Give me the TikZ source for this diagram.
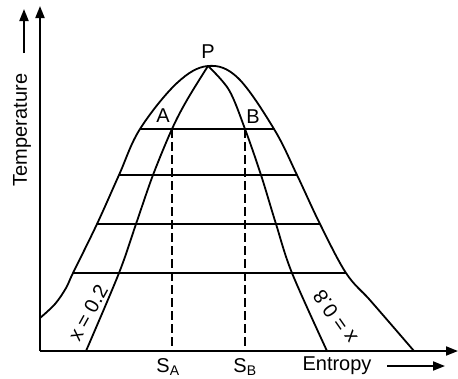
\documentclass[tikz,border=0pt]{standalone}
\usepackage{fontspec}
\setmainfont{Liberation Sans}
\usetikzlibrary{arrows.meta}
\begin{document}
\begin{tikzpicture}[x=1pt,y=-1pt, line width=1.8pt,
  axis/.style={-{Triangle[length=12pt,width=9pt]}},
  lbl/.style={font=\fontsize{20}{22}\selectfont, inner sep=0pt},
  dashline/.style={dash pattern=on 9pt off 4pt}]
\useasboundingbox (0,0) rectangle (458,378);
% coordinates
\coordinate (O) at (40,351);
\coordinate (Ytop) at (40,6);
\coordinate (Xend) at (458,351);
\coordinate (P) at (208,66);
\coordinate (L1) at (140,129);
\coordinate (L2) at (119,175);
\coordinate (L3) at (97,224);
\coordinate (L4) at (73,273);
\coordinate (R1) at (274,129);
\coordinate (R2) at (297,175);
\coordinate (R3) at (320,224);
\coordinate (R4) at (346,273);
\coordinate (A) at (172,129);
\coordinate (a2) at (153,175);
\coordinate (a3) at (136,224);
\coordinate (a4) at (119,273);
\coordinate (aend) at (86,351);
\coordinate (B) at (245,129);
\coordinate (b2) at (261,175);
\coordinate (b3) at (276,224);
\coordinate (b4) at (292,273);
\coordinate (bend) at (327,351);
\coordinate (Tb) at (24,53);
\coordinate (Tt) at (24,9);
\coordinate (Eb) at (387,366);
\coordinate (Et) at (445,366);
% axes
\draw[axis] (O) -- (Ytop);
\draw[axis] (O) -- (Xend);
% outer dome
\draw plot[smooth, tension=0.6] coordinates {(40,318) (55,304) (66,288) (L4) (L3) (L2) (L1) (177,83) (P) (238,78) (R1) (R2) (R3) (R4) (369,299) (389,322) (414,351)};
% inner curves
\draw plot[smooth, tension=0.55] coordinates {(P) (187,100) (A) (a2) (a3) (a4) (aend)};
\draw plot[smooth, tension=0.55] coordinates {(P) (229,90) (B) (b2) (b3) (b4) (bend)};
% horizontals
\draw (L1) -- (R1);
\draw (L2) -- (R2);
\draw (L3) -- (R3);
\draw (L4) -- (R4);
% dashed
\draw[dashline] (A) -- (A |- O);
\draw[dashline] (B) -- (B |- O);
% labels
\node[lbl] (lP) at (208,52) {P};
\node[lbl] (lA) at (163,116) {A};
\node[lbl] (lB) at (253,117) {B};
\node[lbl] (lSA) at (168,367) {S\textsubscript{A}};
\node[lbl] (lSB) at (245,367) {S\textsubscript{B}};
\node[lbl, rotate=61] (x2) at (88,313) {x = 0.2};
\node[lbl, rotate=125] (x8) at (335,317) {x = 0.8};
\node[lbl, rotate=90] (lT) at (22,130) {Temperature};
\node[lbl] (lE) at (337,366) {Entropy};
\draw[axis] (Tb) -- (Tt);
\draw[axis] (Eb) -- (Et);
\end{tikzpicture}
\end{document}
